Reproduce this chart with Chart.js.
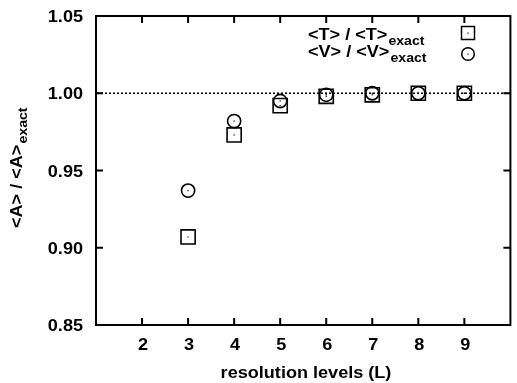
<!DOCTYPE html>
<html>
<head>
<meta charset="utf-8">
<script src="https://cdn.jsdelivr.net/npm/chart.js@4"></script>
<style>
  html, body { margin: 0; padding: 0; overflow: hidden; background: #fff; }
  canvas { display: block; }
</style>
</head>
<body>
<canvas id="ratio-chart" width="522" height="383"></canvas>
<script>
// Ratios of computed to exact expectation values per resolution level
const levels = [3, 4, 5, 6, 7, 8, 9];
const kineticRatio = [0.907, 0.973, 0.992, 0.998, 0.999, 1.000, 1.000];
const potentialRatio = [0.937, 0.982, 0.995, 0.999, 1.000, 1.000, 1.000];

const xTicks = [2, 3, 4, 5, 6, 7, 8, 9];
const yTicks = [0.85, 0.90, 0.95, 1.00, 1.05];

const FONT_FAMILY = '"Liberation Sans", Arial, sans-serif';
const STRETCH = 1.13; // wide lettering
const TICK_LEN = 7;

// draw text squeezed wider, returns the drawn width
function wideText(ctx, text, x, y, size, align) {
    ctx.save();
    ctx.font = 'bold ' + size + 'px ' + FONT_FAMILY;
    const w = ctx.measureText(text).width * STRETCH;
    let x0 = x;
    if (align === 'right') x0 = x - w;
    if (align === 'center') x0 = x - w / 2;
    ctx.translate(x0, y);
    ctx.scale(STRETCH, 1);
    ctx.textAlign = 'left';
    ctx.textBaseline = 'alphabetic';
    ctx.fillStyle = '#000';
    ctx.fillText(text, 0, 0);
    ctx.restore();
    return w;
}

// main text followed by a lowered subscript
function textWithSub(ctx, main, sub, x, y) {
    const w = wideText(ctx, main, x, y, 16, 'left');
    const w2 = wideText(ctx, sub, x + w + 1, y + 4.5, 12.5, 'left');
    return w + 1 + w2;
}

function toPoints(values) {
    return levels.map((l, i) => ({ x: l, y: values[i] }));
}

const framePlugin = {
    id: 'frame',
    beforeDatasetsDraw(chart) {
        const ctx = chart.ctx;
        const a = chart.chartArea;
        const xs = chart.scales.x;
        const ys = chart.scales.y;

        ctx.save();
        // dotted reference line at 1
        const yOne = ys.getPixelForValue(1.0);
        ctx.strokeStyle = '#000';
        ctx.lineWidth = 1.6;
        ctx.setLineDash([2, 2]);
        ctx.beginPath();
        ctx.moveTo(a.left + 1, yOne);
        ctx.lineTo(a.right, yOne);
        ctx.stroke();
        ctx.setLineDash([]);

        // border
        ctx.lineWidth = 2;
        ctx.strokeRect(a.left, a.top, a.right - a.left, a.bottom - a.top);

        // inward tick marks
        ctx.beginPath();
        xTicks.forEach(v => {
            const px = xs.getPixelForValue(v);
            ctx.moveTo(px, a.bottom);
            ctx.lineTo(px, a.bottom - TICK_LEN);
            ctx.moveTo(px, a.top);
            ctx.lineTo(px, a.top + TICK_LEN);
        });
        yTicks.forEach(v => {
            const py = ys.getPixelForValue(v);
            ctx.moveTo(a.left, py);
            ctx.lineTo(a.left + TICK_LEN, py);
            ctx.moveTo(a.right, py);
            ctx.lineTo(a.right - TICK_LEN, py);
        });
        ctx.stroke();
        ctx.restore();

        // tick labels
        xTicks.forEach(v => {
            wideText(ctx, String(v), xs.getPixelForValue(v) + 1, a.bottom + 25, 16, 'center');
        });
        yTicks.forEach(v => {
            wideText(ctx, v.toFixed(2), a.left - 13, ys.getPixelForValue(v) + 6, 16, 'right');
        });

        // axis titles
        wideText(ctx, 'resolution levels (L)', 306, 378, 16, 'center');

        ctx.save();
        ctx.translate(22, 228);
        ctx.rotate(-Math.PI / 2);
        textWithSub(ctx, '<A> / <A>', 'exact', 0, 0);
        ctx.restore();

        // key
        textWithSub(ctx, '<T> / <T>', 'exact', 308, 40);
        textWithSub(ctx, '<V> / <V>', 'exact', 308, 57);

        ctx.save();
        ctx.strokeStyle = '#000';
        ctx.lineWidth = 1.5;
        ctx.strokeRect(461.5, 26.5, 13, 13);
        ctx.beginPath();
        ctx.arc(468, 54, 6.3, 0, Math.PI * 2);
        ctx.stroke();
        ctx.fillStyle = '#000';
        ctx.fillRect(467.5, 32.5, 1.2, 1.2);
        ctx.fillRect(467.5, 53.5, 1.2, 1.2);
        ctx.restore();
    },
    afterDatasetsDraw(chart) {
        // small dot in the middle of each marker
        const ctx = chart.ctx;
        ctx.save();
        ctx.fillStyle = '#000';
        chart.data.datasets.forEach((ds, i) => {
            chart.getDatasetMeta(i).data.forEach(pt => {
                ctx.fillRect(pt.x - 0.6, pt.y - 0.6, 1.2, 1.2);
            });
        });
        ctx.restore();
    }
};

const ctx = document.getElementById('ratio-chart').getContext('2d');

new Chart(ctx, {
    type: 'scatter',
    data: {
        datasets: [
            {
                label: '<T> / <T>exact',
                data: toPoints(kineticRatio),
                pointStyle: 'rect',
                pointRadius: 10,
                borderColor: '#000',
                backgroundColor: 'rgba(0,0,0,0)',
                borderWidth: 1.6
            },
            {
                label: '<V> / <V>exact',
                data: toPoints(potentialRatio),
                pointStyle: 'circle',
                pointRadius: 6.6,
                borderColor: '#000',
                backgroundColor: 'rgba(0,0,0,0)',
                borderWidth: 1.6
            }
        ]
    },
    options: {
        responsive: false,
        animation: false,
        events: [],
        layout: {
            padding: { top: 16, right: 2, left: 0, bottom: 0 }
        },
        plugins: {
            legend: { display: false },
            tooltip: { enabled: false }
        },
        scales: {
            x: {
                type: 'linear',
                min: 1,
                max: 10,
                grid: { display: false, drawTicks: false },
                border: { display: false },
                ticks: { display: false },
                afterBuildTicks: s => { s.ticks = xTicks.map(v => ({ value: v })); },
                afterFit: s => { s.height = 58; }
            },
            y: {
                type: 'linear',
                min: 0.85,
                max: 1.05,
                grid: { display: false, drawTicks: false },
                border: { display: false },
                ticks: { display: false },
                afterBuildTicks: s => { s.ticks = yTicks.map(v => ({ value: v })); },
                afterFit: s => { s.width = 96; }
            }
        }
    },
    plugins: [framePlugin]
});
</script>
</body>
</html>
